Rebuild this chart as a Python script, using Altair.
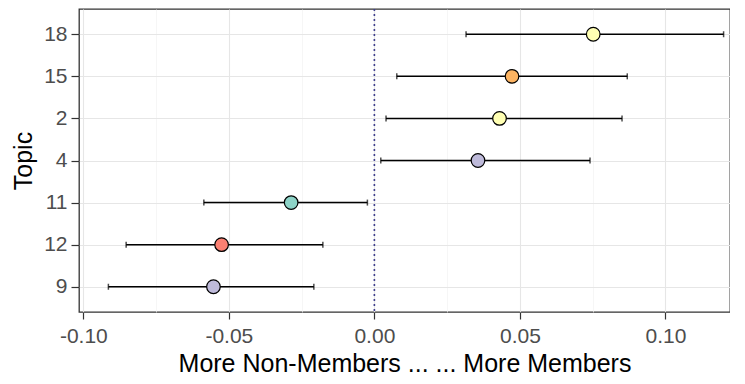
import altair as alt
import pandas as pd

# ---- data ----
topics = ["18", "15", "2", "4", "11", "12", "9"]
estimate = [0.0752, 0.0473, 0.0430, 0.0356, -0.0286, -0.0525, -0.0553]
lower = [0.0315, 0.0077, 0.0040, 0.0022, -0.0586, -0.0853, -0.0914]
upper = [0.1200, 0.0869, 0.0851, 0.0741, -0.0024, -0.0177, -0.0208]
x_ticks = [-0.10, -0.075, -0.05, -0.025, 0.0, 0.025, 0.05, 0.075, 0.10, 0.125]
zero_line = [0.0]

# ---- styles ----
colors = ["#FFFFB3", "#FDB462", "#FFFFB3", "#BEBADA", "#8DD3C7", "#FB8072", "#BEBADA"]
FONT = "Liberation Sans"

df = pd.DataFrame({"topic": topics, "est": estimate, "lo": lower, "hi": upper})
zdf = pd.DataFrame({"z": zero_line})

minor = "abs(round(datum.value*40)) % 2 == 1"

x_scale = alt.Scale(domain=[-0.1015, 0.1222], nice=False, zero=False)
y_scale = alt.Scale(type="point", padding=0.6, domain=topics)

x_axis = alt.Axis(
    values=x_ticks,
    title="More Non-Members ... ... More Members",
    labelExpr=f"{minor} ? '' : replace(format(datum.value, '.2f'), '\u2212', '-')",
    tickColor={"condition": {"test": minor, "value": "transparent"}, "value": "#333333"},
    gridColor={"condition": {"test": minor, "value": "#F2F2F2"}, "value": "#E6E6E6"},
    gridWidth={"condition": {"test": minor, "value": 0.7}, "value": 1.1},
    grid=True,
    domain=False,
    tickSize=7,
    tickWidth=1.2,
    labelPadding=6,
    titlePadding=5,
    labelFontSize=21,
    titleFontSize=25,
    labelColor="#4D4D4D",
    titleColor="#000000",
    titleFontWeight="normal",
    labelFont=FONT,
    titleFont=FONT,
    labelFlush=False,
)

y_axis = alt.Axis(
    title="Topic",
    grid=True,
    gridColor="#E6E6E6",
    gridWidth=1.1,
    domain=False,
    tickSize=8,
    tickWidth=1.2,
    tickColor="#333333",
    labelPadding=4,
    titlePadding=7,
    labelFontSize=21,
    titleFontSize=25,
    labelColor="#4D4D4D",
    titleColor="#000000",
    titleFontWeight="normal",
    labelFont=FONT,
    titleFont=FONT,
)

base = alt.Chart(df)

bars = base.mark_rule(color="#000000", strokeWidth=1.5).encode(
    x=alt.X("lo:Q", scale=x_scale, axis=x_axis),
    x2="hi:Q",
    y=alt.Y("topic:N", scale=y_scale, axis=y_axis, sort=topics),
)

cap_lo = base.mark_tick(color="#000000", thickness=1.5, size=6, orient="vertical").encode(
    x=alt.X("lo:Q", scale=x_scale),
    y=alt.Y("topic:N", scale=y_scale, sort=topics),
)
cap_hi = base.mark_tick(color="#000000", thickness=1.5, size=6, orient="vertical").encode(
    x=alt.X("hi:Q", scale=x_scale),
    y=alt.Y("topic:N", scale=y_scale, sort=topics),
)

zero = alt.Chart(zdf).mark_rule(color="#3E3E8C", strokeDash=[2, 3], strokeWidth=1.6).encode(
    x=alt.X("z:Q", scale=x_scale)
)

points = base.mark_circle(size=185, stroke="#000000", strokeWidth=1.2, opacity=1).encode(
    x=alt.X("est:Q", scale=x_scale),
    y=alt.Y("topic:N", scale=y_scale, sort=topics),
    color=alt.Color("topic:N", scale=alt.Scale(domain=topics, range=colors), legend=None),
)

chart = (
    alt.layer(zero, bars, cap_lo, cap_hi, points)
    .properties(
        width=651,
        height=303,
        padding={"left": 3, "top": 0, "right": 0, "bottom": 0},
        background="white",
    )
    .configure_view(stroke="#333333", strokeWidth=1.3)
)

chart.save("out.html", embed_options={"renderer": "svg", "actions": False})
